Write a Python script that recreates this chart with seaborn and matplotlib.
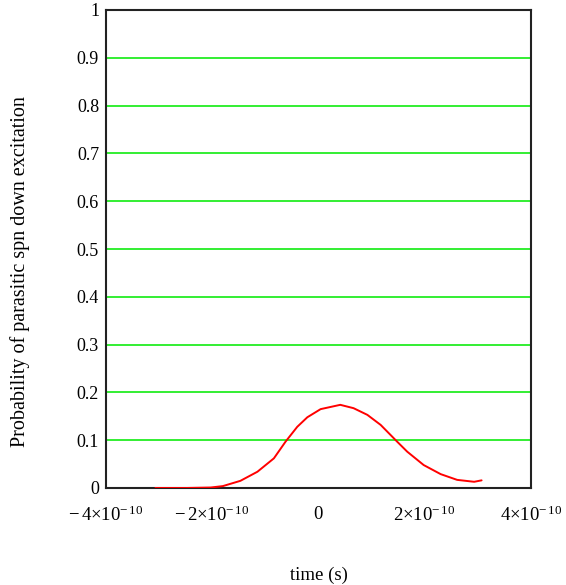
import matplotlib
matplotlib.use("Agg")
import matplotlib.pyplot as plt
import seaborn as sns
import pandas as pd

# data
time_s = [-3.07e-10, -2.5e-10, -2.03e-10, -1.8e-10, -1.47e-10, -1.15e-10, -0.84e-10,
          -0.62e-10, -0.40e-10, -0.21e-10, 0.04e-10, 0.41e-10, 0.66e-10, 0.92e-10,
          1.17e-10, 1.48e-10, 1.67e-10, 1.98e-10, 2.30e-10, 2.61e-10, 2.93e-10, 3.07e-10]
probability = [0.0, 0.0, 0.001, 0.004, 0.015, 0.034, 0.062,
               0.097, 0.128, 0.148, 0.165, 0.174, 0.167, 0.153,
               0.132, 0.097, 0.076, 0.048, 0.029, 0.017, 0.013, 0.016]
x_ticks = [-4e-10, -2e-10, 0, 2e-10, 4e-10]
x_tick_labels = [r"$-\,4{\times}10^{-\,10}$", r"$-\,2{\times}10^{-\,10}$", r"$0$",
                 r"$2{\times}10^{-\,10}$", r"$4{\times}10^{-\,10}$"]
y_ticks = [0, 0.1, 0.2, 0.3, 0.4, 0.5, 0.6, 0.7, 0.8, 0.9, 1]
y_tick_labels = ["0", "0.1", "0.2", "0.3", "0.4", "0.5", "0.6", "0.7", "0.8", "0.9", "1"]

sns.set_style("white")
plt.rcParams["font.family"] = ["Liberation Serif", "DejaVu Serif"]
plt.rcParams["mathtext.fontset"] = "custom"
plt.rcParams["mathtext.rm"] = "Liberation Serif"
plt.rcParams["mathtext.it"] = "Liberation Serif"
plt.rcParams["mathtext.default"] = "rm"
plt.rcParams["text.color"] = "black"
plt.rcParams["axes.labelcolor"] = "black"
plt.rcParams["xtick.labelcolor"] = "black"
plt.rcParams["ytick.labelcolor"] = "black"

fig = plt.figure(figsize=(5.66, 5.85), dpi=100)
ax = fig.add_axes([106 / 566, 1 - 488 / 585, (531 - 106) / 566, (488 - 10) / 585])

for y in y_ticks[1:-1]:
    ax.axhline(y, color="#33ee33", lw=1.4, zorder=1)

df = pd.DataFrame({"time": time_s, "prob": probability})
sns.lineplot(data=df, x="time", y="prob", color="red", lw=1.4, ax=ax, zorder=3)

ax.set_xlim(-4e-10, 4e-10)
ax.set_ylim(0, 1)
ax.set_xticks(x_ticks)
ax.set_xticklabels(x_tick_labels, fontsize=13.5)
ax.set_yticks(y_ticks)
ax.set_yticklabels(y_tick_labels, fontsize=13)
ax.tick_params(axis="x", direction="in", length=10, width=1.5, color="#222222", pad=13)
ax.tick_params(axis="y", length=0, pad=5)
for s in ax.spines.values():
    s.set_color("#222222")
    s.set_linewidth(1.5)

ax.set_xlabel("time (s)", fontsize=13.5, labelpad=30)
ax.set_ylabel("Probability of parasitic spn down excitation", fontsize=14.5)
ax.yaxis.set_label_coords(-0.178, 0.452)

fig.savefig("out.png", dpi=100)
